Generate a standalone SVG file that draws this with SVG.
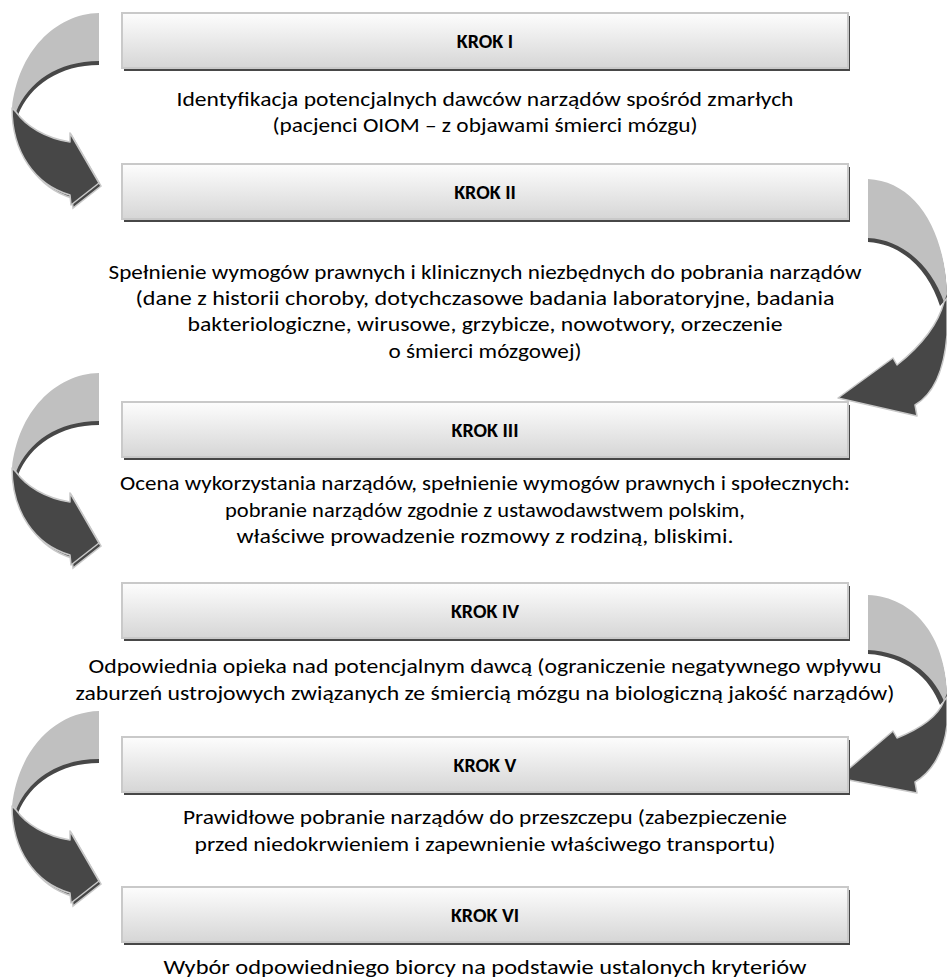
<svg xmlns="http://www.w3.org/2000/svg" width="947" height="979" viewBox="0 0 947 979">
<defs>
<linearGradient id="boxg" x1="0" y1="0" x2="0" y2="1">
<stop offset="0" stop-color="#fdfdfd"/>
<stop offset="1" stop-color="#d6d6d6"/>
</linearGradient>
<g id="larrow">
<path d="M99,16 C60,18 25,55 15,111 L18,115 C30,85 60,65 99,65 Z" fill="#474747"/>
<path d="M99,13 C55,14 18,52 12,108 L16,112 C28,82 58,61 99,61 Z" fill="#c0c0c0"/>
<path d="M15,111 C15,155 38,188 72,198 L73,208 L101,186 L72,136 L72,145 C45,140 28,128 18,115 Z" fill="#474747" stroke="#c8c8c8" stroke-width="1.5"/>
<path d="M12,108 C12,152 35,185 70,195 L71,205 L99,183 L70,133 L70,142 C45,138 26,126 16,112 Z" fill="#474747" stroke="#c8c8c8" stroke-width="1.5" stroke-linejoin="round"/>
</g>
</defs>
<style>
.box{fill:url(#boxg);stroke:#c9c9c9;stroke-width:2}
.sh{fill:#474747}
.lbl{font-family:Carlito,Lato,"Liberation Sans",sans-serif;font-weight:bold;font-size:20px;text-anchor:middle;fill:#000}
.txt{font-family:Carlito,Lato,"Liberation Sans",sans-serif;font-size:20px;text-anchor:middle;fill:#000}
.lt{fill:#c0c0c0}
.dk{fill:#474747;stroke:#c8c8c8;stroke-width:1.5;stroke-linejoin:round}
</style>
<g id="connectors">
<use href="#larrow"/>
<use href="#larrow" transform="translate(0,360)"/>
<use href="#larrow" transform="translate(0,698)"/>
<g id="rarrow1">
<path d="M868,182 C914,185 946,232 947,298 L940,306 C930,274 905,244 868,242 Z" fill="#474747"/>
<path d="M868,179 C914,181 945,228 947,294 L944,302 C932,268 905,240 868,238 Z" class="lt"/>
<path d="M944,302 L947,298 L947,335 C944,372 932,395 915,405 L917,416 L838,398 L893,358 L897,365 C922,345 938,325 944,302 Z" class="dk"/>
</g>
<g id="rarrow2">
<path d="M868,598 C914,601 946,640 947,697 L940,705 C930,678 905,656 868,654 Z" fill="#474747"/>
<path d="M868,595 C914,597 945,636 947,693 L944,701 C932,672 905,652 868,650 Z" class="lt"/>
<path d="M944,701 L947,697 L947,725 C944,752 932,772 915,782 L917,793 L838,778 L893,731 L897,738 C922,728 938,716 944,701 Z" class="dk"/>
</g>
</g>
<g id="krok1">
<rect x="124" y="16" width="726" height="55" class="sh"/>
<rect x="122" y="13" width="726" height="55" class="box"/>
<text x="485" y="48" class="lbl">KROK I</text>
<text x="485" y="106" class="txt" textLength="617" lengthAdjust="spacingAndGlyphs">Identyfikacja potencjalnych dawców narządów spośród zmarłych</text>
<text x="485" y="132" class="txt" textLength="425" lengthAdjust="spacingAndGlyphs">(pacjenci OIOM – z objawami śmierci mózgu)</text>
</g>
<g id="krok2">
<rect x="124" y="167" width="726" height="55" class="sh"/>
<rect x="122" y="164" width="726" height="55" class="box"/>
<text x="485" y="199" class="lbl">KROK II</text>
<text x="485" y="279" class="txt" textLength="753" lengthAdjust="spacingAndGlyphs">Spełnienie wymogów prawnych i klinicznych niezbędnych do pobrania narządów</text>
<text x="485" y="305" class="txt" textLength="699" lengthAdjust="spacingAndGlyphs">(dane z historii choroby, dotychczasowe badania laboratoryjne, badania</text>
<text x="485" y="331" class="txt" textLength="595" lengthAdjust="spacingAndGlyphs">bakteriologiczne, wirusowe, grzybicze, nowotwory, orzeczenie</text>
<text x="485" y="358" class="txt" textLength="193" lengthAdjust="spacingAndGlyphs">o śmierci mózgowej)</text>
</g>
<g id="krok3">
<rect x="124" y="405" width="726" height="55" class="sh"/>
<rect x="122" y="402" width="726" height="55" class="box"/>
<text x="485" y="437" class="lbl">KROK III</text>
<text x="485" y="490" class="txt" textLength="730" lengthAdjust="spacingAndGlyphs">Ocena wykorzystania narządów, spełnienie wymogów prawnych i społecznych:</text>
<text x="485" y="517" class="txt" textLength="520" lengthAdjust="spacingAndGlyphs">pobranie narządów zgodnie z ustawodawstwem polskim,</text>
<text x="485" y="543" class="txt" textLength="497" lengthAdjust="spacingAndGlyphs">właściwe prowadzenie rozmowy z rodziną, bliskimi.</text>
</g>
<g id="krok4">
<rect x="124" y="586" width="726" height="55" class="sh"/>
<rect x="122" y="583" width="726" height="55" class="box"/>
<text x="485" y="618" class="lbl">KROK IV</text>
<text x="485" y="673" class="txt" textLength="793" lengthAdjust="spacingAndGlyphs">Odpowiednia opieka nad potencjalnym dawcą (ograniczenie negatywnego wpływu</text>
<text x="485" y="700" class="txt" textLength="819" lengthAdjust="spacingAndGlyphs">zaburzeń ustrojowych związanych ze śmiercią mózgu na biologiczną jakość narządów)</text>
</g>
<g id="krok5">
<rect x="124" y="740" width="726" height="55" class="sh"/>
<rect x="122" y="737" width="726" height="55" class="box"/>
<text x="485" y="772" class="lbl">KROK V</text>
<text x="485" y="824" class="txt" textLength="604" lengthAdjust="spacingAndGlyphs">Prawidłowe pobranie narządów do przeszczepu (zabezpieczenie</text>
<text x="485" y="851" class="txt" textLength="581" lengthAdjust="spacingAndGlyphs">przed niedokrwieniem i zapewnienie właściwego transportu)</text>
</g>
<g id="krok6">
<rect x="124" y="890" width="726" height="55" class="sh"/>
<rect x="122" y="887" width="726" height="55" class="box"/>
<text x="485" y="922" class="lbl">KROK VI</text>
<text x="485" y="974" class="txt" textLength="643" lengthAdjust="spacingAndGlyphs">Wybór odpowiedniego biorcy na podstawie ustalonych kryteriów</text>
</g>
</svg>
